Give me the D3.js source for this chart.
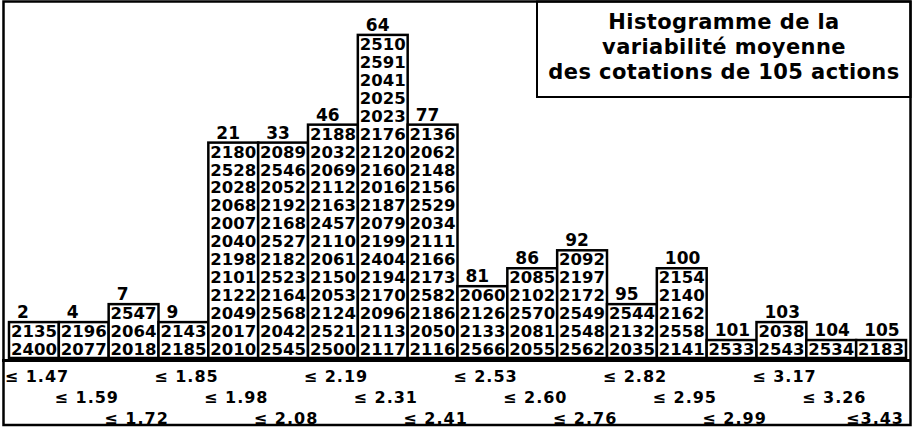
<!DOCTYPE html>
<html>
<head>
<meta charset="utf-8">
<script src="https://cdn.jsdelivr.net/npm/d3@7"></script>
<style>
  body { margin: 0; background: #fff; }
  svg { display: block; }
  text { font-family: "DejaVu Sans", sans-serif; font-weight: bold; fill: #000; }
</style>
</head>
<body>
<svg id="viz"></svg>
<script>
// class limits (upper bound of each bin)
const thresholds = ["≤ 1.47", "≤ 1.59", "≤ 1.72", "≤ 1.85", "≤ 1.98", "≤ 2.08",
	"≤ 2.19", "≤ 2.31", "≤ 2.41", "≤ 2.53", "≤ 2.60", "≤ 2.76",
	"≤ 2.82", "≤ 2.95", "≤ 2.99", "≤ 3.17", "≤ 3.26", "≤3.43"];

// cumulative number of shares, written above each bar
const cumCounts = [2, 4, 7, 9, 21, 33, 46, 64, 77, 81, 86, 92, 95, 100, 101, 103, 104, 105];

// share codes in each bin, top to bottom
const codes = [
	[2135, 2400],
	[2196, 2077],
	[2547, 2064, 2018],
	[2143, 2185],
	[2180, 2528, 2028, 2068, 2007, 2040, 2198, 2101, 2122, 2049, 2017, 2010],
	[2089, 2546, 2052, 2192, 2168, 2527, 2182, 2523, 2164, 2568, 2042, 2545],
	[2188, 2032, 2069, 2112, 2163, 2457, 2110, 2061, 2150, 2053, 2124, 2521, 2500],
	[2510, 2591, 2041, 2025, 2023, 2176, 2120, 2160, 2016, 2187, 2079, 2199, 2404, 2194, 2170, 2096, 2113, 2117],
	[2136, 2062, 2148, 2156, 2529, 2034, 2111, 2166, 2173, 2582, 2186, 2050, 2116],
	[2060, 2126, 2133, 2566],
	[2085, 2102, 2570, 2081, 2055],
	[2092, 2197, 2172, 2549, 2548, 2562],
	[2544, 2132, 2035],
	[2154, 2140, 2162, 2558, 2141],
	[2533],
	[2038, 2543],
	[2534],
	[2183]
];

const titleLines = ["Histogramme de la", "variabilité moyenne", "des cotations de 105 actions"];

const width = 915;
const height = 427;
const baseY = 358;
const rowH = 17.95;

const svg = d3.select("svg#viz")
	.attr("width", width)
	.attr("height", height);

const x = d3.scaleBand()
	.domain(d3.range(thresholds.length))
	.range([9, 906]);

const maxRows = d3.max(codes, d => d.length);
const y = d3.scaleLinear()
	.domain([0, maxRows])
	.range([baseY, baseY - maxRows * rowH]);

// title box
svg.append("rect")
	.attr("x", 537).attr("y", 1.5)
	.attr("width", 373.5).attr("height", 95.5)
	.attr("fill", "none").attr("stroke", "#000").attr("stroke-width", 2);

svg.append("g").attr("id", "title")
	.selectAll("text")
	.data(titleLines)
	.join("text")
	.attr("x", 724)
	.attr("y", (d, i) => 29 + i * 25)
	.attr("text-anchor", "middle")
	.attr("font-size", 21)
	.attr("letter-spacing", 0.4)
	.text(d => d);

// bars
const cols = svg.append("g").attr("id", "bars")
	.selectAll("g")
	.data(codes)
	.join("g");

cols.append("rect")
	.attr("x", (d, i) => x(i))
	.attr("y", d => y(d.length))
	.attr("width", x.bandwidth())
	.attr("height", d => baseY - y(d.length))
	.attr("fill", "#fff")
	.attr("stroke", "#000")
	.attr("stroke-width", 2.5);

cols.each(function(d, i) {
	d3.select(this).selectAll("text.code")
		.data(d)
		.join("text")
		.attr("class", "code")
		.attr("x", x(i) + x.bandwidth() / 2)
		.attr("y", (c, k) => y(d.length - k - 1) - 3)
		.attr("text-anchor", "middle")
		.attr("font-size", 16.5)
		.text(c => c);
});

// cumulative count above each bar
cols.append("text")
	.attr("x", (d, i) => x(i) + 8)
	.attr("y", d => y(d.length) - 4)
	.attr("font-size", 17)
	.text((d, i) => cumCounts[i]);

// base line
svg.append("line")
	.attr("x1", 2).attr("x2", 911)
	.attr("y1", 360.5).attr("y2", 360.5)
	.attr("stroke", "#000").attr("stroke-width", 3);

// class limits, staggered on three rows
const last = thresholds.length - 1;
svg.append("g").attr("id", "x-labels")
	.selectAll("text")
	.data(thresholds)
	.join("text")
	.attr("x", (d, i) => i === last ? x(i) + x.bandwidth() - 2 : x(i) + x.bandwidth() / 2 + 3)
	.attr("y", (d, i) => 382 + (i % 3) * 21)
	.attr("text-anchor", (d, i) => i === last ? "end" : "middle")
	.attr("font-size", 16)
	.attr("letter-spacing", 1)
	.text(d => d);

// outer frame, drawn last so nothing hides it
svg.append("rect")
	.attr("x", 3.5).attr("y", 1.5)
	.attr("width", 907).attr("height", 423.5)
	.attr("fill", "none").attr("stroke", "#000").attr("stroke-width", 2.5);
</script>
</body>
</html>
